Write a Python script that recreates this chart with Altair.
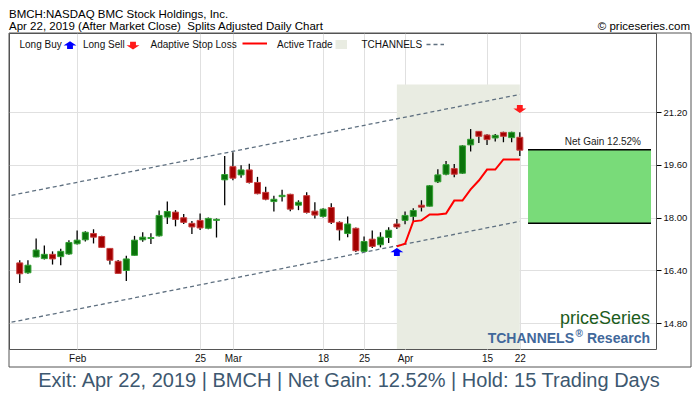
import altair as alt
import pandas as pd

# ---------------- data ----------------
# trading-day index: 0 = Feb 1 2019, 54 = Apr 22 2019
day_index = list(range(-7, 55))
open_ = [16.63, 16.33, 16.81, 16.76, 16.89, 16.82, 16.90,
         17.21, 17.33, 17.52, 17.43, 17.07, 16.68, 16.40, 16.86, 17.33, 17.37,
         17.45, 18.02, 18.17, 18.00, 17.83, 17.92, 17.68, 17.92, 19.15, 19.55,
         19.30, 19.45, 19.07, 18.77, 18.49, 18.64, 18.71, 18.38, 18.67, 18.20,
         18.04, 18.31, 17.86, 17.52, 17.68, 16.98, 17.35, 17.18, 17.40, 17.81,
         17.92, 18.04, 18.38, 18.35, 19.09, 19.32, 19.49, 19.35, 20.21, 20.62,
         20.51, 20.42, 20.59, 20.43, 20.44]
high = [16.71, 16.71, 17.37, 17.16, 16.98, 17.06, 17.32,
        17.61, 17.59, 17.65, 17.45, 17.08, 16.72, 16.85, 17.45, 17.56, 17.53,
        18.22, 18.49, 18.23, 18.11, 17.90, 18.13, 18.01, 17.98, 19.87, 19.99,
        19.59, 19.64, 19.24, 18.94, 18.67, 18.85, 18.73, 18.53, 18.77, 18.47,
        18.29, 18.44, 17.89, 18.04, 17.70, 17.43, 17.61, 17.56, 17.71, 17.96,
        18.19, 18.29, 18.53, 18.99, 19.47, 19.72, 19.63, 20.20, 20.69, 20.63,
        20.53, 20.54, 20.61, 20.61, 20.59]
low = [16.02, 16.30, 16.80, 16.73, 16.58, 16.56, 16.88,
       17.19, 17.28, 17.22, 17.08, 16.58, 16.29, 16.08, 16.85, 17.27, 17.20,
       17.43, 17.81, 17.74, 17.81, 17.51, 17.63, 17.65, 17.40, 18.38, 19.14,
       19.21, 19.04, 18.71, 18.53, 18.19, 18.49, 18.20, 18.23, 18.13, 17.98,
       18.01, 17.81, 17.31, 17.41, 16.96, 16.96, 17.08, 17.10, 17.23, 17.66,
       17.80, 17.90, 18.19, 18.34, 19.05, 19.29, 19.23, 19.33, 20.01, 20.27,
       20.21, 20.31, 20.29, 20.29, 19.87]
close = [16.30, 16.56, 17.02, 16.89, 16.75, 16.98, 17.25,
         17.32, 17.56, 17.41, 17.10, 16.71, 16.31, 16.75, 17.32, 17.41, 17.40,
         18.07, 18.19, 17.95, 17.86, 17.72, 17.69, 17.98, 17.95, 19.31, 19.20,
         19.45, 19.07, 18.73, 18.56, 18.56, 18.68, 18.26, 18.47, 18.16, 18.08,
         18.26, 17.86, 17.63, 17.81, 17.00, 17.28, 17.13, 17.41, 17.62, 17.72,
         18.07, 18.22, 18.32, 18.97, 19.30, 19.61, 19.32, 20.18, 20.38, 20.47,
         20.37, 20.50, 20.47, 20.59, 20.05]

tick_values = [0, 15, 19, 30, 35, 40, 50, 54]
tick_labels = ["Feb", "25", "Mar", "18", "25", "Apr", "15", "22"]
price_ticks = [14.8, 16.4, 18.0, 19.6, 21.2]

stop_index = list(range(39, 55))
stop_values = [17.13, 17.21, 17.89, 17.92, 18.10, 18.10, 18.13, 18.52,
               18.52, 18.86, 19.13, 19.46, 19.46, 19.77, 19.77, 19.77]

channel_index = [-8, 54]
channel_upper = [18.68, 21.74]
channel_lower = [14.83, 17.89]

trade_start, trade_end, trade_top = 39, 54, 22.04
entry_price, exit_price = 17.83, 20.06
gain_start, gain_end = 55, 70
buy_index, buy_level = 39, 16.95
sell_index, sell_level = 54, 21.31

X_DOMAIN = [-7.7, 70]
Y_DOMAIN = [14.018, 23.604]

# ---------------- styles ----------------
GREEN, GREEN_EDGE = "#0A720A", "#33A033"
RED, RED_EDGE = "#A30000", "#C84040"
FRAME = "#555555"
CHANNEL = "#5F7080"
BAND = "#E9ECE2"
FONT = "Liberation Sans, Arial, sans-serif"

UP_ARROW = "M0,-0.66 L1,0 L0.45,0 L0.45,0.55 L-0.45,0.55 L-0.45,0 L-1,0 Z"
DOWN_ARROW = "M0,0.66 L1,0 L0.45,0 L0.45,-0.55 L-0.45,-0.55 L-0.45,0 L-1,0 Z"

W, H = 647, 316          # plot area
FRAME_W, FRAME_H = 682, 334

# ---------------- tables ----------------
candles = pd.DataFrame({"i": day_index, "open": open_, "high": high,
                        "low": low, "close": close})
candles["dir"] = ["up" if c >= o else "down" for o, c in zip(open_, close)]

stops = pd.DataFrame({"i": stop_index, "stop": stop_values})
channels = pd.DataFrame({
    "i": channel_index * 2,
    "p": channel_upper + channel_lower,
    "line": ["upper"] * 2 + ["lower"] * 2,
})
band = pd.DataFrame({"x": [trade_start], "x2": [trade_end],
                     "y": [Y_DOMAIN[0]], "y2": [trade_top]})
gain = pd.DataFrame({"x": [gain_start], "x2": [gain_end],
                     "lo": [entry_price], "hi": [exit_price],
                     "label": ["Net Gain 12.52%"]})
gain_edges = pd.DataFrame({"x": [gain_start] * 2, "x2": [gain_end] * 2,
                           "p": [entry_price, exit_price]})
buy = pd.DataFrame({"i": [buy_index], "p": [buy_level]})
sell = pd.DataFrame({"i": [sell_index], "p": [sell_level]})
one = pd.DataFrame({"k": [0]})

xscale = alt.Scale(domain=X_DOMAIN, nice=False, zero=False)
yscale = alt.Scale(domain=Y_DOMAIN, nice=False, zero=False)

label_expr = " : ".join(f"datum.value == {v} ? '{l}'" for v, l in zip(tick_values, tick_labels)) + " : ''"

xaxis = alt.Axis(values=tick_values, labelExpr=label_expr, ticks=False, domain=False,
                 grid=True, gridColor="#E0E0E0", labelFont=FONT, labelFontSize=10,
                 labelColor="#111", labelPadding=4, title=None, labelAngle=0)
yaxis = alt.Axis(orient="right", values=price_ticks, format=".2f", ticks=True,
                 tickColor="#000", tickSize=5, domain=False, grid=True,
                 gridColor="#E0E0E0", labelFont=FONT, labelFontSize=9.5,
                 labelColor="#111", labelPadding=2, title=None)


def X(field):
    return alt.X(field, type="quantitative", scale=xscale, axis=xaxis, title=None)


def Y(field):
    return alt.Y(field, type="quantitative", scale=yscale, axis=yaxis, title=None)


def txt(text, x, y, size=10, color="#111", align="left", weight="normal"):
    return alt.Chart(one).mark_text(text=text, align=align, baseline="alphabetic",
                                    font=FONT, fontSize=size, color=color,
                                    fontWeight=weight).encode(
        x=alt.value(x), y=alt.value(y))


layers = []

# active trade band
layers.append(alt.Chart(band).mark_rect(color=BAND, clip=True).encode(
    x=X("x"), x2="x2", y=Y("y"), y2="y2"))

# channels
layers.append(alt.Chart(channels).mark_line(color=CHANNEL, strokeWidth=1.3,
                                            strokeDash=[4, 3], clip=True).encode(
    x=X("i"), y=Y("p"), detail="line:N"))

# wicks
layers.append(alt.Chart(candles).mark_rule(color="#000", strokeWidth=1.3, clip=True).encode(
    x=X("i"), y=Y("low"), y2="high"))

# bodies
layers.append(alt.Chart(candles).mark_bar(size=6, strokeWidth=1, clip=True).encode(
    x=X("i"), y=Y("open"), y2="close",
    color=alt.Color("dir:N", scale=alt.Scale(domain=["up", "down"], range=[GREEN, RED]), legend=None),
    stroke=alt.Stroke("dir:N", scale=alt.Scale(domain=["up", "down"], range=[GREEN_EDGE, RED_EDGE]), legend=None)))

# adaptive stop loss
layers.append(alt.Chart(stops).mark_line(color="#FF0000", strokeWidth=2).encode(
    x=X("i"), y=Y("stop")))

# net gain box
layers.append(alt.Chart(gain).mark_rect(color="#79DB79").encode(
    x=X("x"), x2="x2", y=Y("lo"), y2="hi"))
layers.append(alt.Chart(gain_edges).mark_rule(color="#000", strokeWidth=1.5).encode(
    x=X("x"), x2="x2", y=Y("p")))
layers.append(alt.Chart(gain).mark_text(align="right", baseline="alphabetic", dx=-10, dy=-5,
                                        font=FONT, fontSize=10, color="#222").encode(
    x=X("x2"), y=Y("hi"), text="label:N"))

# buy / sell arrows
layers.append(alt.Chart(buy).mark_point(shape=UP_ARROW, filled=True, size=169,
                                        color="#0000FF", opacity=1).encode(x=X("i"), y=Y("p")))
layers.append(alt.Chart(sell).mark_point(shape=DOWN_ARROW, filled=True, size=169,
                                         color="#FF1A1A", opacity=1).encode(x=X("i"), y=Y("p")))

# legend row
layers.append(txt("Long Buy", 10.5, 15))
layers.append(alt.Chart(one).mark_point(shape=UP_ARROW, filled=True, size=169, color="#0000FF",
                                        opacity=1).encode(x=alt.value(61), y=alt.value(12.5)))
layers.append(txt("Long Sell", 74, 15))
layers.append(alt.Chart(one).mark_point(shape=DOWN_ARROW, filled=True, size=169, color="#FF1A1A",
                                        opacity=1).encode(x=alt.value(124), y=alt.value(12.2)))
layers.append(txt("Adaptive Stop Loss", 141.5, 15))
layers.append(alt.Chart(one).mark_rule(color="#FF0000", strokeWidth=2).encode(
    x=alt.value(233.5), x2=alt.value(258), y=alt.value(10.5)))
layers.append(txt("Active Trade", 268, 15))
layers.append(alt.Chart(one).mark_rect(color=BAND).encode(
    x=alt.value(326.5), x2=alt.value(338), y=alt.value(7), y2=alt.value(16)))
layers.append(txt("TCHANNELS", 352.5, 15))
layers.append(alt.Chart(one).mark_rule(color=CHANNEL, strokeWidth=1.3, strokeDash=[4, 3]).encode(
    x=alt.value(417.5), x2=alt.value(435), y=alt.value(11.5)))

# watermark
layers.append(txt("priceSeries", 641, 291, size=18, color="#1C5C1C", align="right"))
layers.append(txt("TCHANNELS", 565, 309.5, size=14, color="#41689B", align="right", weight="bold"))
layers.append(txt("\u00ae", 566.5, 304, size=10, color="#41689B", weight="bold"))
layers.append(txt("Research", 641, 309.5, size=14, color="#41689B", align="right", weight="bold"))

# titles and footer
layers.append(txt("BMCH:NASDAQ BMC Stock Holdings, Inc.", 0, -15.5, size=11.5, color="#000"))
layers.append(txt("Apr 22, 2019 (After Market Close)\u00a0\u00a0Splits Adjusted Daily Chart", 0, -2.6,
                  size=11.5, color="#000"))
layers.append(txt("\u00a9 priceseries.com", 681, -2.6, size=11.5, color="#000", align="right"))
layers.append(txt("Exit: Apr 22, 2019 | BMCH | Net Gain: 12.52% | Hold: 15 Trading Days",
                  340, 353.5, size=20, color="#3D5870", align="center"))

# outer frame
layers.append(alt.Chart(one).mark_rect(fillOpacity=0, stroke=FRAME, strokeWidth=1).encode(
    x=alt.value(0), x2=alt.value(FRAME_W), y=alt.value(0), y2=alt.value(FRAME_H)))

chart = alt.layer(*layers).properties(
    width=W, height=H,
    autosize=alt.AutoSizeParams(type="none"),
    padding={"left": 1, "top": 25, "right": 36, "bottom": 43},
).configure_view(stroke=FRAME, strokeWidth=1)

chart.save("out.html", embed_options={"renderer": "svg", "actions": False})
